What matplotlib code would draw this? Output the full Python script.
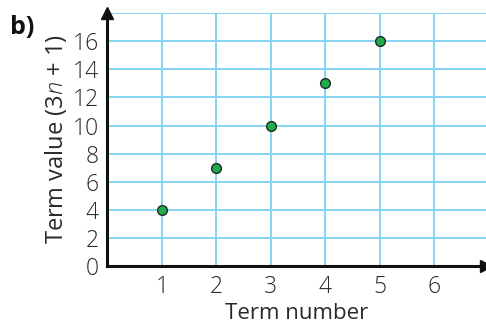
import matplotlib.pyplot as plt

plt.rcParams['font.family'] = ['Open Sans', 'DejaVu Sans']
plt.rcParams['font.weight'] = 'light'
plt.rcParams['mathtext.fontset'] = 'custom'
plt.rcParams['mathtext.it'] = 'Open Sans:italic:light'
plt.rcParams['mathtext.rm'] = 'Open Sans:light'

term_number = [1, 2, 3, 4, 5]
term_value = [4, 7, 10, 13, 16]
x_ticks = [1, 2, 3, 4, 5, 6]
y_ticks = [0, 2, 4, 6, 8, 10, 12, 14, 16]

fig = plt.figure(figsize=(4.86, 3.25), dpi=100)
ax = fig.add_axes([0.221, 0.181, 0.779, 0.779])

grid_col = '#86d3f2'
for gx in range(1, 7):
    ax.axvline(gx, color=grid_col, lw=1.4, zorder=1)
for gy in range(2, 19, 2):
    ax.axhline(gy, color=grid_col, lw=1.4, zorder=1)

ax.plot(term_number, term_value, 'o', ms=7, mfc='#1fad4b', mec='#1d2b22', mew=1.0, zorder=3)

ax.set_xlim(0, 6.95)
ax.set_ylim(0, 18)
ax.set_xticks(x_ticks)
ax.set_yticks(y_ticks)
ax.tick_params(length=0, labelsize=16.5, pad=6, colors='#2a2a2a')
ax.tick_params(axis='y', pad=6)

for s in ['top', 'right']:
    ax.spines[s].set_visible(False)
for s in ['left', 'bottom']:
    ax.spines[s].set_linewidth(2.2)
    ax.spines[s].set_color('#111111')
    ax.spines[s].set_zorder(4)

# arrow heads
ax.plot(1, 0, '>', color='#111111', ms=8, transform=ax.transAxes, clip_on=False, zorder=5)
ax.plot(0, 1, '^', color='#111111', ms=8, transform=ax.transAxes, clip_on=False, zorder=5)

ax.set_xlabel('Term number', fontsize=16, color='#2a2a2a', labelpad=3.5)
ax.set_ylabel('Term value (3$n$ + 1)', fontsize=17, color='#2a2a2a', labelpad=3)

fig.text(0.02, 0.895, 'b)', fontsize=18, fontweight='bold', color='#111111')

plt.savefig('out.png', dpi=100)
